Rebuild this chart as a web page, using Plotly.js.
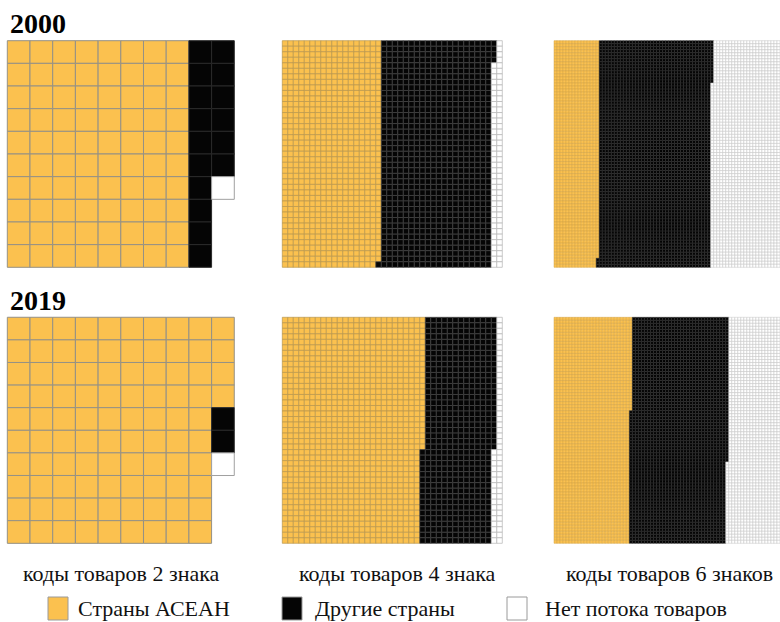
<!DOCTYPE html>
<html>
<head>
<meta charset="utf-8">
<script src="https://cdn.plot.ly/plotly-3.0.1.min.js"></script>
<style>html,body{margin:0;padding:0;background:#fff;}#chart{width:780px;height:622px;}</style>
</head>
<body>
<div id="chart"></div>
<script>
// ---- data (cell counts: ASEAN, other countries, no trade flow) ----
const categories = ['Страны АСЕАН', 'Другие страны', 'Нет потока товаров'];
const years = ['2000', '2019'];
const codeLabels = ['коды товаров 2 знака', 'коды товаров 4 знака', 'коды товаров 6 знаков'];
const counts2000_hs2 = [80, 16, 1];
const counts2000_hs4 = [737, 825, 78];
const counts2000_hs6 = [1122, 2792, 1711];
const counts2019_hs2 = [94, 2, 1];
const counts2019_hs4 = [1049, 533, 58];
const counts2019_hs6 = [1906, 2417, 1302];
// grid shapes (columns, rows) of each waffle
const gridCols = [10, 40, 75];
const gridRows = [10, 41, 75];

// ---- styling ----
const FONT = 'Liberation Serif, Times New Roman, serif';
const fillColors = ['#FBC14F', '#050505', '#FFFFFF'];
const lineColors = [
  ['#959185', '#2a2a2a', '#a0a0a0'],
  ['#b8964e', '#444444', '#b4b4b4'],
  ['#d2a548', '#2e2e2e', '#c4c4c4']
];
const lineWidths = [1, 0.7, 0.5];
const W = 780, H = 622;
const colBoxes = [[7.3, 234.3], [282.3, 502.3], [554, 780]];
const rowBoxes = [[40.7, 267.3], [317.3, 543.3]];
const captionX = [121, 397, 669];
const legendSwatchX = [48, 282, 507];
const legendTextX = [76, 313, 543];

const allCounts = [
  [counts2000_hs2, counts2000_hs4, counts2000_hs6],
  [counts2019_hs2, counts2019_hs4, counts2019_hs6]
];

const traces = [];
const layout = {
  width: W, height: H,
  margin: {l: 0, r: 0, t: 0, b: 0},
  paper_bgcolor: '#fff', plot_bgcolor: 'rgba(0,0,0,0)',
  showlegend: false,
  annotations: [],
  shapes: [],
  hovermode: false
};

let k = 0;
for (let r = 0; r < 2; r++) {
  for (let c = 0; c < 3; c++) {
    k++;
    const ax = k === 1 ? '' : String(k);
    const nC = gridCols[c], nR = gridRows[c];
    const [x0, x1] = colBoxes[c];
    const [y0, y1] = rowBoxes[r];
    layout['xaxis' + ax] = {
      domain: [x0 / W, x1 / W], range: [-0.5, nC - 0.5], visible: false, fixedrange: true,
      anchor: 'y' + ax
    };
    layout['yaxis' + ax] = {
      domain: [1 - y1 / H, 1 - y0 / H], range: [nR - 0.5, -0.5], visible: false, fixedrange: true,
      anchor: 'x' + ax
    };
    const cell = ((x1 - x0) / nC + (y1 - y0) / nR) / 2;
    const counts = allCounts[r][c];
    let idx = 0;
    counts.forEach((n, cat) => {
      const xs = [], ys = [];
      for (let i = 0; i < n; i++, idx++) {
        xs.push(Math.floor(idx / nR));
        ys.push(idx % nR);
      }
      traces.push({
        type: 'scatter', mode: 'markers', x: xs, y: ys,
        xaxis: 'x' + ax, yaxis: 'y' + ax,
        name: categories[cat], legendgroup: categories[cat],
        cliponaxis: false, hoverinfo: 'skip',
        marker: {
          symbol: 'square', size: cell, color: fillColors[cat],
          line: {color: lineColors[c][cat], width: lineWidths[c]}
        }
      });
    });
  }
}

// year headings
years.forEach((yr, r) => {
  layout.annotations.push({
    text: '<b>' + yr + '</b>', xref: 'paper', yref: 'paper',
    x: 8 / W, y: 1 - (rowBoxes[r][0] - 17) / H, xanchor: 'left', yanchor: 'middle',
    showarrow: false,
    font: {family: FONT, size: 28, color: '#000'}
  });
});
// column captions
codeLabels.forEach((lab, c) => {
  layout.annotations.push({
    text: lab, xref: 'paper', yref: 'paper',
    x: captionX[c] / W, y: 1 - 573 / H, xanchor: 'center', yanchor: 'middle',
    showarrow: false,
    font: {family: FONT, size: 22, color: '#111'}
  });
});
// legend (swatches + labels)
categories.forEach((lab, cat) => {
  layout.shapes.push({
    type: 'rect', xref: 'paper', yref: 'paper',
    x0: legendSwatchX[cat] / W, x1: (legendSwatchX[cat] + 20) / W,
    y0: 1 - 620 / H, y1: 1 - 597 / H,
    fillcolor: fillColors[cat], line: {color: '#9a9a9a', width: 1}
  });
  layout.annotations.push({
    text: lab, xref: 'paper', yref: 'paper',
    x: legendTextX[cat] / W, y: 1 - 608 / H, xanchor: 'left', yanchor: 'middle',
    showarrow: false,
    font: {family: FONT, size: 22, color: '#111'}
  });
});

Plotly.newPlot('chart', traces, layout, {staticPlot: true, displayModeBar: false});
</script>
</body>
</html>
